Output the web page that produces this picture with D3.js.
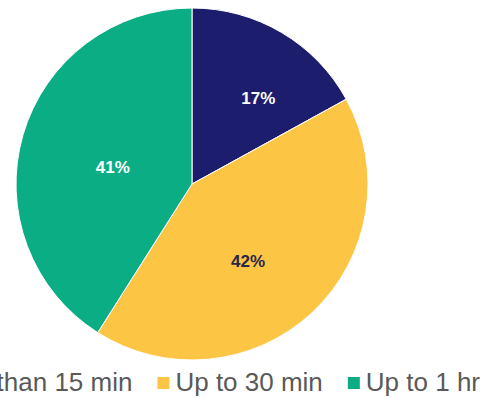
<!DOCTYPE html>
<html>
<head>
<meta charset="utf-8">
<script src="https://cdn.jsdelivr.net/npm/d3@7/dist/d3.min.js"></script>
<style>
  html, body { margin: 0; padding: 0; background: #ffffff; }
  svg { display: block; }
</style>
</head>
<body>
<svg id="chart" width="497" height="398"></svg>
<script>
// Commute time shares
const categories = ["Less than 15 min", "Up to 30 min", "Up to 1 hr"];
const shares = [17, 42, 41];
const sliceColors = ["#1c1d6d", "#fdc544", "#0bae84"];
const labelColors = ["#ffffff", "#2b2548", "#ffffff"];
// fine placement of each percentage label relative to the slice centroid
const labelNudge = [[18, -4], [-9, 8], [12, 10]];

const W = 497, H = 398;
const cx = 192, cy = 184, R = 176;
const svg = d3.select("#chart");

const pie = d3.pie().sort(null).value(d => d.value);
const arcs = pie(categories.map((c, i) => ({ name: c, value: shares[i], i })));

const arc = d3.arc().innerRadius(0).outerRadius(R);
const labelArc = d3.arc().innerRadius(95).outerRadius(95);

const g = svg.append("g").attr("transform", `translate(${cx},${cy})`);

g.selectAll("path.slice")
  .data(arcs)
  .join("path")
  .attr("class", "slice")
  .attr("d", arc)
  .attr("fill", d => sliceColors[d.data.i])
  .attr("stroke", "#ffffff")
  .attr("stroke-width", 1)
  .attr("stroke-linejoin", "round");

g.selectAll("text.pct")
  .data(arcs)
  .join("text")
  .attr("class", "pct")
  .attr("x", d => labelArc.centroid(d)[0] + labelNudge[d.data.i][0])
  .attr("y", d => labelArc.centroid(d)[1] + labelNudge[d.data.i][1])
  .attr("text-anchor", "middle")
  .attr("dominant-baseline", "central")
  .attr("font-family", "Liberation Sans, Arial, sans-serif")
  .attr("font-weight", "bold")
  .attr("font-size", 17)
  .attr("fill", d => labelColors[d.data.i])
  .text(d => d.data.value + "%");

// Legend: laid out left to right from measured text widths, right-aligned;
// it is wider than the canvas, so the first entry runs off the left edge
const legendFont = 26, sq = 12, pad = 6, itemGap = 25, legendRight = 480, baseline = 391;
const legend = svg.append("g");
const items = legend.selectAll("g.item")
  .data(categories)
  .join("g")
  .attr("class", "item");
items.append("rect")
  .attr("width", sq).attr("height", sq)
  .attr("y", baseline - sq - 2)
  .attr("fill", (d, i) => sliceColors[i]);
items.append("text")
  .attr("y", baseline)
  .attr("font-family", "Liberation Sans, Arial, sans-serif")
  .attr("font-size", legendFont)
  .attr("fill", "#595959")
  .text(d => d);

const widths = [];
items.select("text").each(function () { widths.push(this.getComputedTextLength()); });
const total = d3.sum(widths) + categories.length * (sq + pad) + (categories.length - 1) * itemGap;
let x = legendRight - total;
items.each(function (d, i) {
  const it = d3.select(this);
  it.select("rect").attr("x", x);
  it.select("text").attr("x", x + sq + pad);
  x += sq + pad + widths[i] + itemGap;
});
</script>
</body>
</html>
